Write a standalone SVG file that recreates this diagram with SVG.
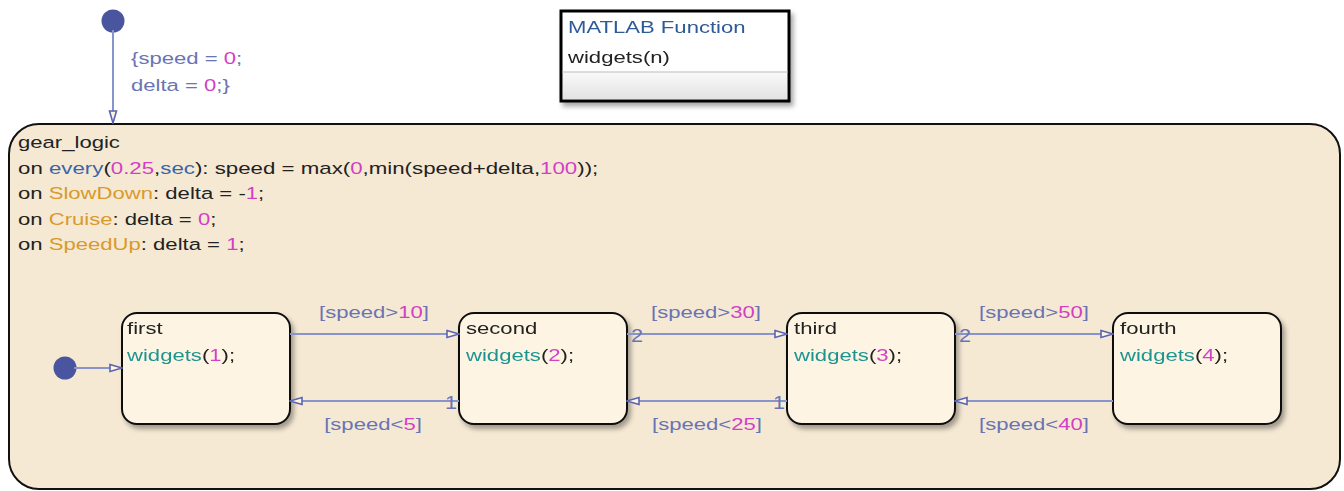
<svg xmlns="http://www.w3.org/2000/svg" width="1344" height="491" viewBox="0 0 1344 491">
<style>
text{font-family:"Liberation Sans",Arial,sans-serif;font-size:17px;fill:#222}
.lbl{fill:#6a74b4}
.num{fill:#d23fc6}
.fn{fill:#1f9590}
.ev{fill:#d99a2b}
.kw{fill:#3a64a8}
.st{fill:#fdf4e3;stroke:#111;stroke-width:2}
.tr{stroke:#8a94cc;stroke-width:2;fill:none}
.ord{fill:#6a74b4;font-size:18px}
</style>
<defs>
<marker id="ah" viewBox="0 0 14 10" refX="13" refY="5" markerWidth="14" markerHeight="10" markerUnits="userSpaceOnUse" orient="auto">
<path d="M1,1.5 L13,5 L1,8.5 Z" fill="#fdf4e3" stroke="#5a64b0" stroke-width="1.6"/>
</marker>
<filter id="sh" x="-10%" y="-10%" width="130%" height="130%">
<feGaussianBlur in="SourceAlpha" stdDeviation="2.5"/>
<feOffset dx="3" dy="4" result="b"/>
<feComponentTransfer><feFuncA type="linear" slope="0.35"/></feComponentTransfer>
<feMerge><feMergeNode/><feMergeNode in="SourceGraphic"/></feMerge>
</filter>
<linearGradient id="gr" x1="0" y1="0" x2="0" y2="1">
<stop offset="0" stop-color="#fafafa"/>
<stop offset="1" stop-color="#e2e2e2"/>
</linearGradient>
</defs>
<rect width="1344" height="491" fill="#ffffff"/>

<g id="gear_logic">
<rect x="9" y="124" width="1331" height="365" rx="30" ry="30" fill="#f5e9d4" stroke="#111" stroke-width="2"/>
<text transform="translate(18,148) scale(1.3,1)">gear_logic</text>
<text transform="translate(18,174) scale(1.31,1)">on <tspan class="kw">every</tspan>(<tspan class="num">0.25</tspan>,<tspan class="kw">sec</tspan>): speed = max(<tspan class="num">0</tspan>,min(speed+delta,<tspan class="num">100</tspan>));</text>
<text transform="translate(18,199) scale(1.3,1)">on <tspan class="ev">SlowDown</tspan>: delta = -<tspan class="num">1</tspan>;</text>
<text transform="translate(18,225) scale(1.3,1)">on <tspan class="ev">Cruise</tspan>: delta = <tspan class="num">0</tspan>;</text>
<text transform="translate(18,250) scale(1.3,1)">on <tspan class="ev">SpeedUp</tspan>: delta = <tspan class="num">1</tspan>;</text>
</g>

<g id="matlab_function" filter="url(#sh)">
<rect x="561" y="11" width="228" height="90" fill="#ffffff" stroke="#000" stroke-width="3"/>
<rect x="563" y="72" width="224" height="27" fill="url(#gr)"/>
<line x1="562" y1="72" x2="788" y2="72" stroke="#bbb" stroke-width="1"/>
<text transform="translate(568,33) scale(1.3,1)" style="fill:#2f5a96">MATLAB Function</text>
<text transform="translate(568,63) scale(1.3,1)">widgets(n)</text>
</g>

<g id="first" filter="url(#sh)">
<rect class="st" x="122" y="313" width="168" height="111" rx="15"/>
<text transform="translate(127,334) scale(1.3,1)">first</text>
<text transform="translate(127,361) scale(1.3,1)"><tspan class="fn">widgets</tspan>(<tspan class="num">1</tspan>);</text>
</g>
<g id="second" filter="url(#sh)">
<rect class="st" x="459" y="313" width="168" height="111" rx="15"/>
<text transform="translate(466,334) scale(1.3,1)">second</text>
<text transform="translate(466,361) scale(1.3,1)"><tspan class="fn">widgets</tspan>(<tspan class="num">2</tspan>);</text>
</g>
<g id="third" filter="url(#sh)">
<rect class="st" x="787" y="313" width="168" height="111" rx="15"/>
<text transform="translate(794,334) scale(1.3,1)">third</text>
<text transform="translate(794,361) scale(1.3,1)"><tspan class="fn">widgets</tspan>(<tspan class="num">3</tspan>);</text>
</g>
<g id="fourth" filter="url(#sh)">
<rect class="st" x="1113" y="313" width="168" height="111" rx="15"/>
<text transform="translate(1120,334) scale(1.3,1)">fourth</text>
<text transform="translate(1120,361) scale(1.3,1)"><tspan class="fn">widgets</tspan>(<tspan class="num">4</tspan>);</text>
</g>

<g id="connectors">
<circle cx="113" cy="21" r="11.5" fill="#4a55a0"/>
<line class="tr" x1="113" y1="30" x2="113" y2="123" marker-end="url(#ah)"/>
<text class="lbl" transform="translate(131,64) scale(1.3,1)">{speed = <tspan class="num">0</tspan>;</text>
<text class="lbl" transform="translate(131,91) scale(1.3,1)">delta = <tspan class="num">0</tspan>;}</text>

<circle cx="65" cy="368" r="11.5" fill="#4a55a0"/>
<line class="tr" x1="74" y1="368" x2="122" y2="368" marker-end="url(#ah)"/>

<line class="tr" x1="290" y1="334" x2="459" y2="334" marker-end="url(#ah)"/>
<text class="lbl" text-anchor="middle" transform="translate(374,318) scale(1.3,1)">[speed&gt;<tspan class="num">10</tspan>]</text>
<line class="tr" x1="459" y1="401" x2="290" y2="401" marker-end="url(#ah)"/>
<text class="lbl" text-anchor="middle" transform="translate(373,430) scale(1.3,1)">[speed&lt;<tspan class="num">5</tspan>]</text>
<text class="ord" transform="translate(445,409) scale(1.2,1)">1</text>

<line class="tr" x1="627" y1="334" x2="787" y2="334" marker-end="url(#ah)"/>
<text class="lbl" text-anchor="middle" transform="translate(706,318) scale(1.3,1)">[speed&gt;<tspan class="num">30</tspan>]</text>
<text class="ord" transform="translate(631,342) scale(1.2,1)">2</text>
<line class="tr" x1="787" y1="401" x2="627" y2="401" marker-end="url(#ah)"/>
<text class="lbl" text-anchor="middle" transform="translate(707,430) scale(1.3,1)">[speed&lt;<tspan class="num">25</tspan>]</text>
<text class="ord" transform="translate(773,409) scale(1.2,1)">1</text>

<line class="tr" x1="955" y1="334" x2="1113" y2="334" marker-end="url(#ah)"/>
<text class="lbl" text-anchor="middle" transform="translate(1034,318) scale(1.3,1)">[speed&gt;<tspan class="num">50</tspan>]</text>
<text class="ord" transform="translate(959,342) scale(1.2,1)">2</text>
<line class="tr" x1="1113" y1="401" x2="955" y2="401" marker-end="url(#ah)"/>
<text class="lbl" text-anchor="middle" transform="translate(1034,430) scale(1.3,1)">[speed&lt;<tspan class="num">40</tspan>]</text>
</g>
</svg>
